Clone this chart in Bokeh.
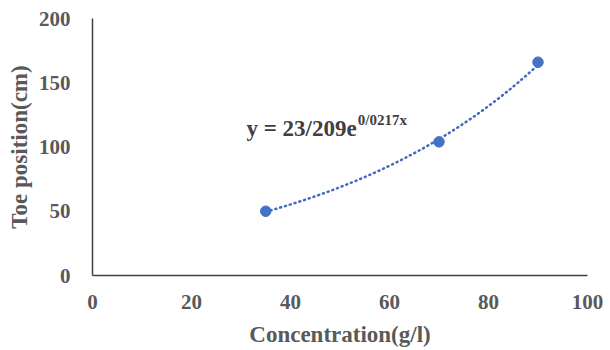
import numpy as np
from bokeh.plotting import figure
from bokeh.models import Range1d, Label, FixedTicker
from bokeh.embed import file_html
from bokeh.resources import INLINE

# Data
concentration = [35, 70, 90]
toe_position = [50, 104, 166]
x_ticks = [0, 20, 40, 60, 80, 100]
y_ticks = [0, 50, 100, 150, 200]
equation_main = "y = 23/209e"
equation_sup = "0/0217x"

# Exponential trendline fitted to the data
b, ln_a = np.polyfit(concentration, np.log(toe_position), 1)
trend_x = np.linspace(min(concentration), max(concentration), 100)
trend_y = np.exp(ln_a) * np.exp(b * trend_x)

FONT = "Liberation Serif"
GRAY = "#595959"
BLUE = "#4472C4"

p = figure(width=610, height=350, output_backend="svg", toolbar_location=None,
           x_range=Range1d(0, 100), y_range=Range1d(0, 200),
           min_border_left=92, min_border_right=23, min_border_top=18, min_border_bottom=75)
p.outline_line_color = None
p.grid.visible = False
p.background_fill_color = "white"
p.border_fill_color = "white"

for ax in (p.xaxis[0], p.yaxis[0]):
    ax.major_tick_line_color = None
    ax.minor_tick_line_color = None
    ax.major_tick_out = 0
    ax.major_tick_in = 0
    ax.axis_line_color = "#404040"
    ax.axis_line_width = 1.5
    ax.major_label_text_font = FONT
    ax.major_label_text_font_style = "bold"
    ax.major_label_text_font_size = "21px"
    ax.major_label_text_color = GRAY
    ax.axis_label_text_font = FONT
    ax.axis_label_text_font_style = "bold"
    ax.axis_label_text_font_size = "23px"
    ax.axis_label_text_color = GRAY

p.xaxis[0].ticker = FixedTicker(ticks=x_ticks)
p.yaxis[0].ticker = FixedTicker(ticks=y_ticks)
p.xaxis[0].major_label_standoff = 19
p.yaxis[0].major_label_standoff = 22
p.xaxis[0].axis_label = "Concentration(g/l)"
p.yaxis[0].axis_label = "Toe position(cm)"
p.xaxis[0].axis_label_standoff = 10
p.yaxis[0].axis_label_standoff = 4

p.line(trend_x, trend_y, line_color="#4468BE", line_width=2.5, line_dash="1 4", line_cap="round")
p.scatter(concentration, toe_position, size=10.5, color=BLUE)

p.add_layout(Label(x=31.1, y=114.4, text=equation_main, text_font=FONT, text_font_style="bold",
                   text_font_size="23px", text_color="#404040", text_baseline="middle"))
p.add_layout(Label(x=53.6, y=121.0, text=equation_sup, text_font=FONT, text_font_style="bold",
                   text_font_size="15px", text_color="#404040", text_baseline="middle"))

open("out.html", "w").write(file_html(p, INLINE))
